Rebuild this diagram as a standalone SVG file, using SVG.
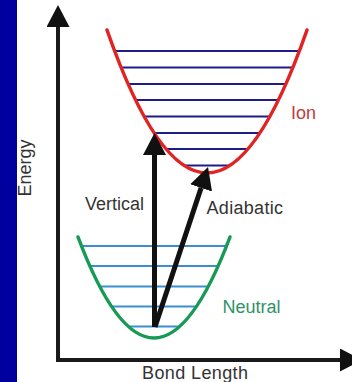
<svg xmlns="http://www.w3.org/2000/svg" width="352" height="382" viewBox="0 0 352 382">
<style>
.lbl{font-family:"Liberation Sans",Arial,sans-serif;font-size:18px}
.dark{fill:#333333}
.ionlvl{stroke:#1c1c8a;stroke-width:2}
.neulvl{stroke:#3b8fd0;stroke-width:2}
.axis{stroke:#1a1a1a;stroke-width:4;fill:none}
.arrow{stroke:#111111;stroke-width:5;fill:none}
</style>
<defs>
<marker id="head" viewBox="0 0 22 23" refX="0" refY="11.5" markerWidth="22" markerHeight="23" markerUnits="userSpaceOnUse" orient="auto">
<path d="M0,0 L22,11.5 L0,23 z" fill="#111111"/>
</marker>
</defs>
<rect width="352" height="382" fill="#ffffff"/>
<rect x="0" y="0" width="17" height="382" fill="#00009e"/>
<g id="ion">
<line class="ionlvl" x1="114.6" y1="51" x2="299.4" y2="51"/>
<line class="ionlvl" x1="121.1" y1="67.5" x2="292.9" y2="67.5"/>
<line class="ionlvl" x1="128.1" y1="84" x2="285.9" y2="84"/>
<line class="ionlvl" x1="135.6" y1="100" x2="278.4" y2="100"/>
<line class="ionlvl" x1="144.1" y1="116.5" x2="269.9" y2="116.5"/>
<line class="ionlvl" x1="154.1" y1="133" x2="259.9" y2="133"/>
<line class="ionlvl" x1="166" y1="149" x2="248" y2="149"/>
<line class="ionlvl" x1="184.1" y1="165.5" x2="229.9" y2="165.5"/>
<path d="M107,30 Q207,316 307,30" fill="none" stroke="#e02424" stroke-width="3.5" stroke-linecap="round"/>
<text class="lbl" x="291" y="119" fill="#c43a3a">Ion</text>
</g>
<g id="neutral">
<line class="neulvl" x1="81.5" y1="246" x2="226.5" y2="246"/>
<line class="neulvl" x1="89.8" y1="266" x2="218.2" y2="266"/>
<line class="neulvl" x1="99.7" y1="286.5" x2="208.3" y2="286.5"/>
<line class="neulvl" x1="111.6" y1="306.5" x2="196.4" y2="306.5"/>
<line class="neulvl" x1="128.4" y1="326.5" x2="179.6" y2="326.5"/>
<path d="M78,237 Q154,439 230,237" fill="none" stroke="#169a55" stroke-width="3.5" stroke-linecap="round"/>
<text class="lbl" x="222.5" y="312.5" fill="#2e9466">Neutral</text>
</g>
<g id="axes">
<line class="axis" x1="58" y1="362" x2="58" y2="27" marker-end="url(#head)"/>
<line class="axis" x1="56" y1="360" x2="340" y2="360" marker-end="url(#head)"/>
<text class="lbl dark" x="195" y="378.5" text-anchor="middle" textLength="106">Bond Length</text>
<text class="lbl dark" transform="translate(31,168) rotate(-90)" text-anchor="middle">Energy</text>
</g>
<g id="connectors">
<line class="arrow" x1="154.5" y1="327" x2="154.5" y2="155" marker-end="url(#head)"/>
<line class="arrow" x1="155" y1="327" x2="201.1" y2="187.9" marker-end="url(#head)"/>
</g>
<g id="labels">
<text class="lbl dark" x="85" y="210">Vertical</text>
<text class="lbl dark" x="206.5" y="214" textLength="76.5">Adiabatic</text>
</g>
</svg>
